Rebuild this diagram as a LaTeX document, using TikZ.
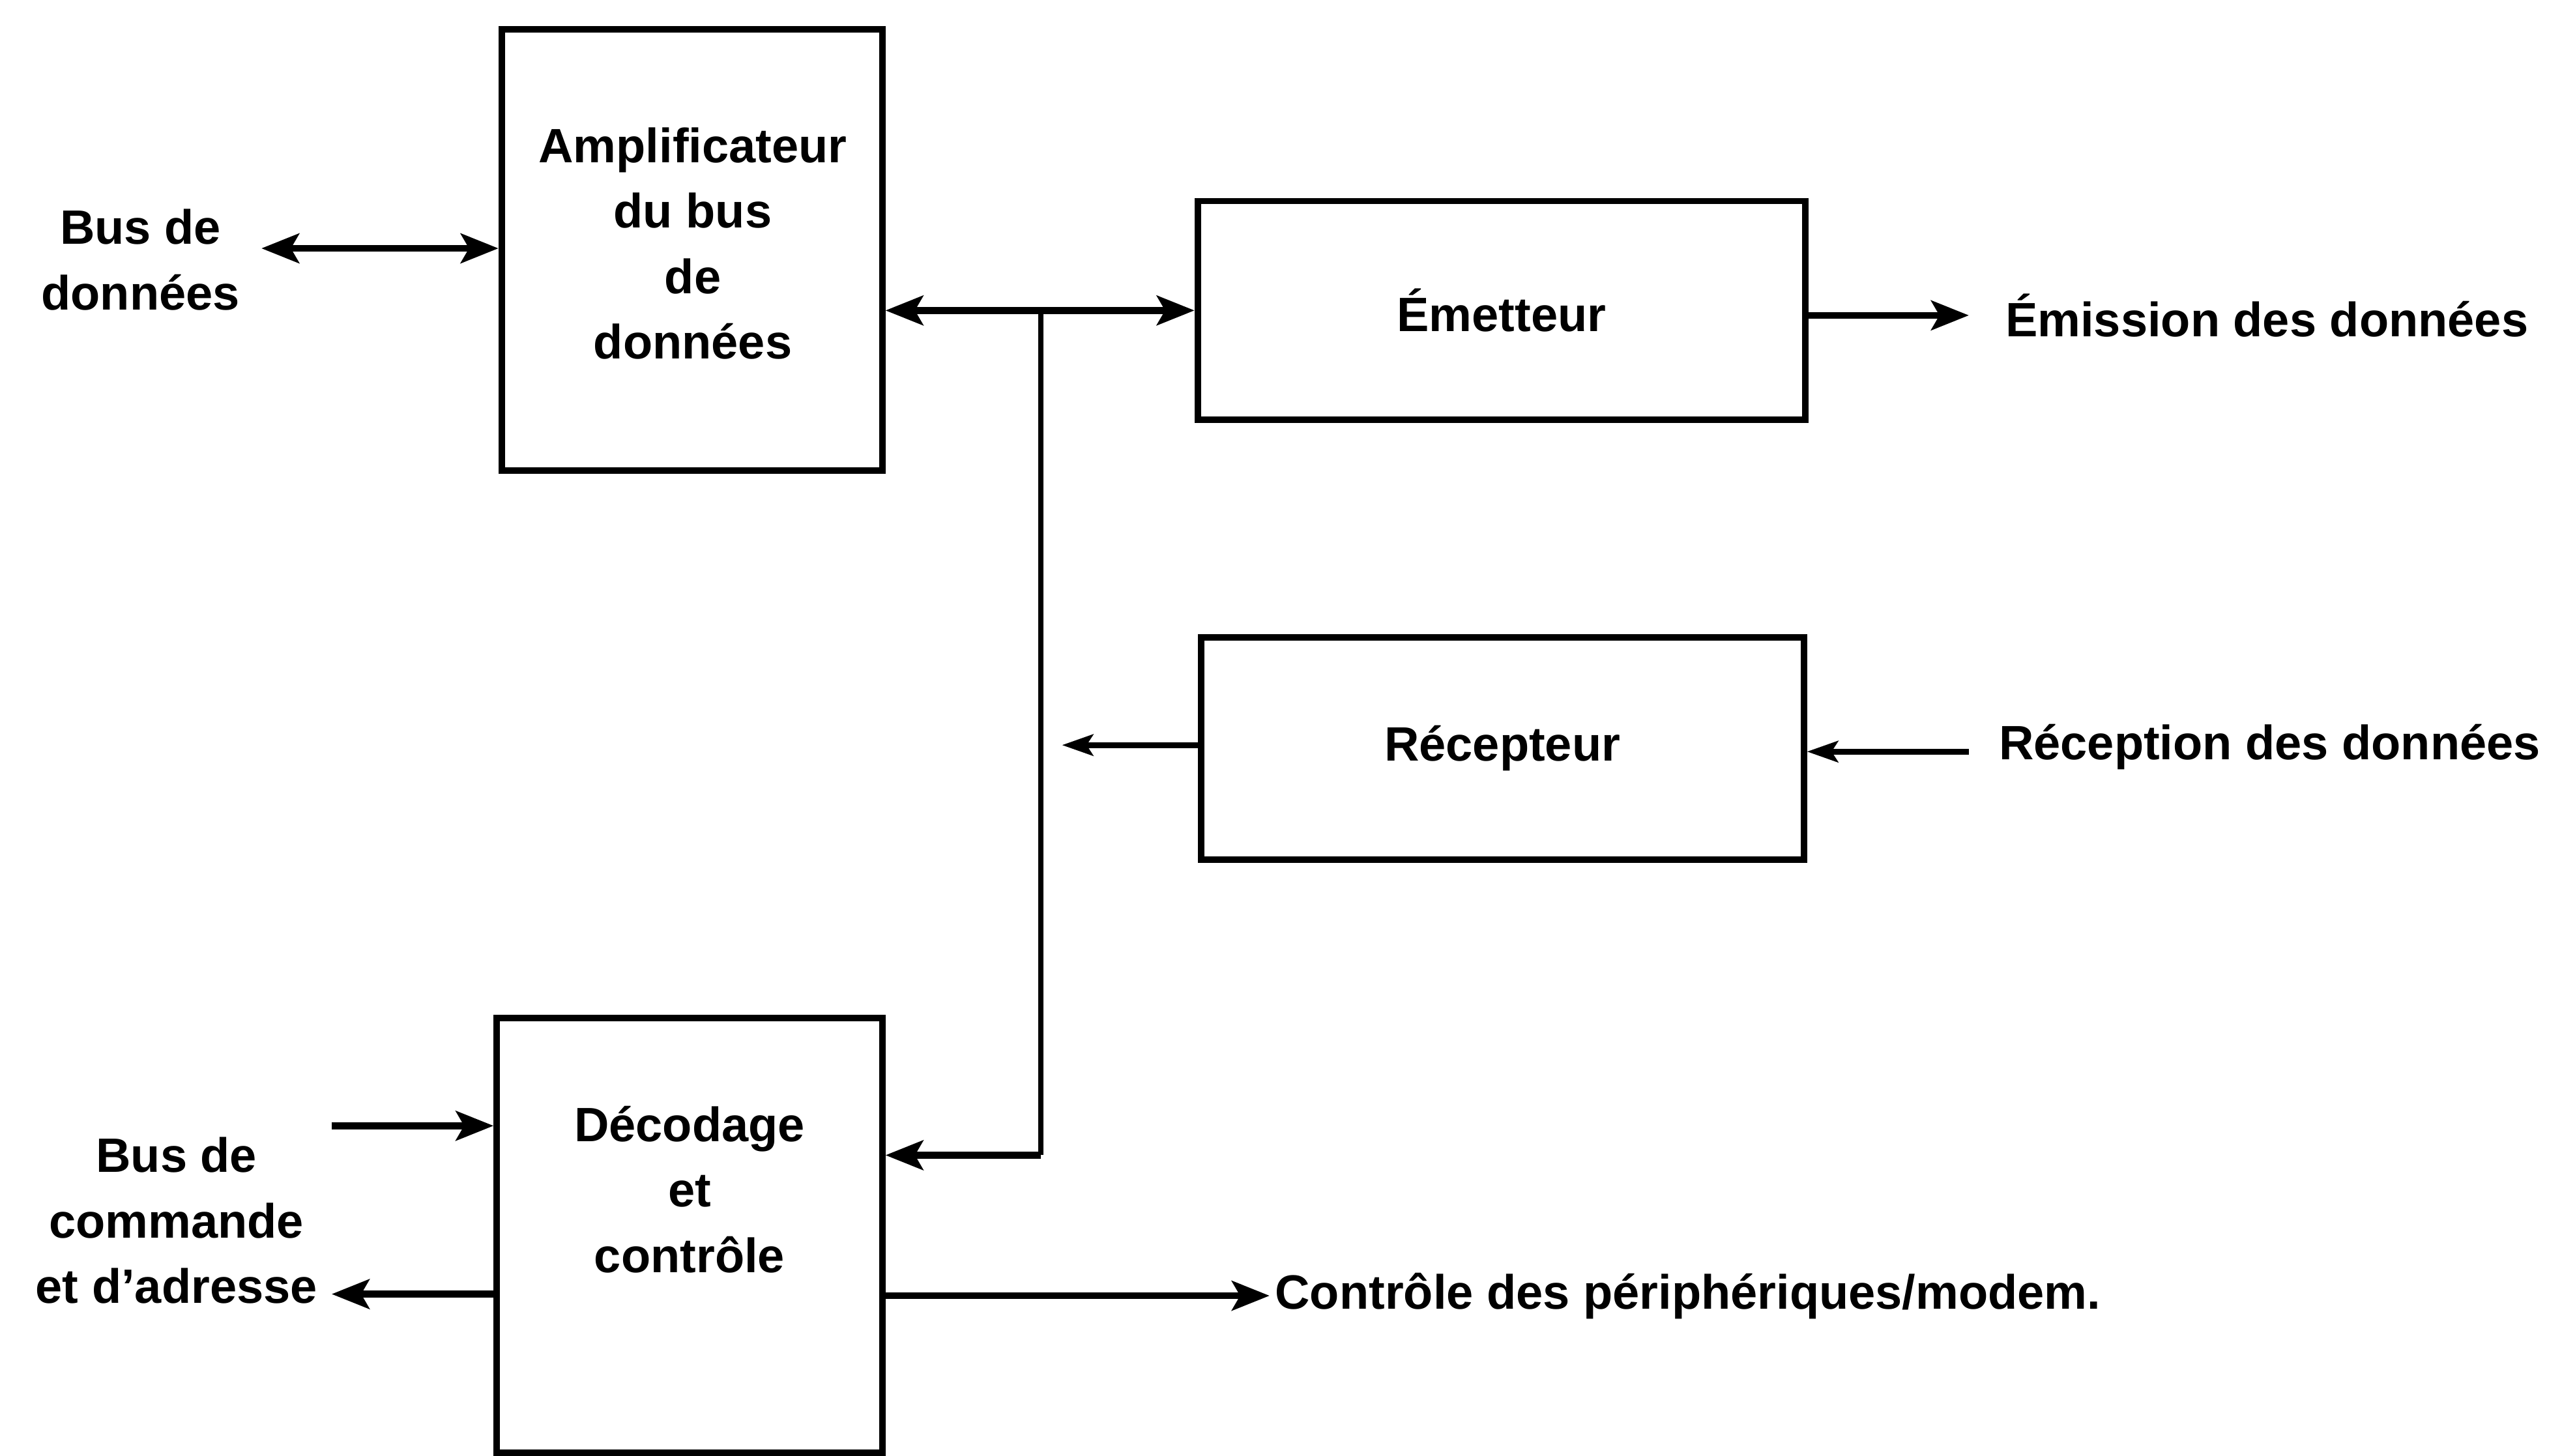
\documentclass[tikz,border=0pt]{standalone}
\usepackage{fontspec}
\setmainfont{Liberation Sans}
\usepackage{tikz}
\usetikzlibrary{positioning, arrows.meta}
\tikzstyle{plan} = [x = 0.1mm, y = -0.1mm]
\tikzstyle{blocStyle} = [draw, line width = 1.1pt, inner sep = 0pt]
\tikzstyle{blocText} = [font = \bfseries\fontsize{8.4}{11.4}\selectfont, align = center]
\tikzstyle{lienLine} = [line width = 1.2pt, >={Stealth[length = 2.3mm, width = 1.8mm, inset = 0.5mm]}]
\tikzstyle{petitLine} = [line width = 1pt, >={Stealth[length = 1.9mm, width = 1.3mm, inset = 0.4mm]}]
\tikzstyle{busLine} = [line width = 0.8pt]

\begin{document}
\begin{tikzpicture}[plan]
  \useasboundingbox (0,0) rectangle (1568,891);

  % blocs
  \node[blocStyle, minimum width = 23.3mm, minimum height = 27mm] (amp) at (423.5,153) {};
  \node[blocText] (ampText) at (424,149) {Amplificateur\\du bus\\de\\données};
  \node[blocStyle, blocText, minimum width = 37.2mm, minimum height = 13.4mm] (emet) at (919,190) {Émetteur};
  \node[blocStyle, blocText, minimum width = 36.9mm, minimum height = 13.6mm] (recep) at (919.5,458) {Récepteur};
  \node[blocStyle, minimum width = 23.6mm, minimum height = 26.6mm] (deco) at (422,756) {};
  \node[blocText] (decoText) at (422,728) {Décodage\\et\\contrôle};

  % textes
  \node[blocText] (busDon) at (86,159) {Bus de\\données};
  \node[blocText] (busCmd) at (108,747) {Bus de\\commande\\et d'adresse};
  \node[blocText, anchor = west] (emisText) at (1215,193) {Émission des données};
  \node[blocText, anchor = west] (recepText) at (1211,457) {Réception des données};
  \node[blocText, anchor = west] (ctrlText) at (768,793) {Contrôle des périphériques/modem.};

  % bouts libres
  \coordinate (busDonEnd) at (160,152);
  \coordinate (jonction) at (637,190);
  \coordinate (jonctionBas) at (637,707);
  \coordinate (emisEnd) at (1205,193);
  \coordinate (recepEnd) at (1205,460);
  \coordinate (recepOut) at (650,456);
  \coordinate (cmdIn) at (203,689);
  \coordinate (cmdOut) at (203,792);
  \coordinate (ctrlEnd) at (777,793);

  \draw[lienLine, <->] (busDonEnd) -- (amp.west |- busDonEnd);
  \draw[lienLine, <->] (amp.east |- jonction) -- (emet.west);
  \draw[busLine] (jonction) -- (jonctionBas);
  \draw[lienLine, ->] (jonctionBas) -- (deco.east |- jonctionBas);
  \draw[lienLine, ->] (emet.east |- emisEnd) -- (emisEnd);
  \draw[petitLine, ->] (recepEnd) -- (recep.east |- recepEnd);
  \draw[petitLine, ->] (recep.west |- recepOut) -- (recepOut);
  \draw[lienLine, ->] (cmdIn) -- (deco.west |- cmdIn);
  \draw[lienLine, ->] (deco.west |- cmdOut) -- (cmdOut);
  \draw[lienLine, ->] (deco.east |- ctrlEnd) -- (ctrlEnd);
\end{tikzpicture}
\end{document}
